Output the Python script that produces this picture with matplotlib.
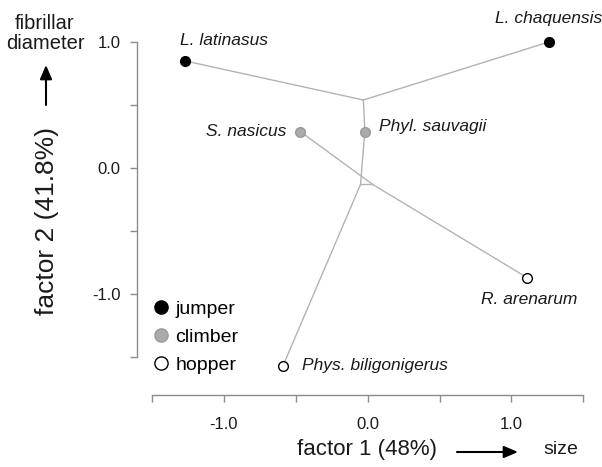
import matplotlib
matplotlib.use("Agg")
import matplotlib.pyplot as plt
from matplotlib.lines import Line2D

plt.rcParams["font.family"] = ["Liberation Sans", "DejaVu Sans"]

# ── data ──────────────────────────────────────────────────────
species = ["L. latinasus", "L. chaquensis", "S. nasicus",
           "Phyl. sauvagii", "R. arenarum", "Phys. biligonigerus"]
factor1 = [-1.27, 1.26, -0.47, -0.02, 1.11, -0.59]
factor2 = [0.85, 1.00, 0.29, 0.29, -0.87, -1.57]
habit = ["jumper", "jumper", "climber", "climber", "hopper", "hopper"]

# internal tree nodes
node_names = ["A", "C", "D"]
node_f1 = [-0.03, -0.05, 0.035]
node_f2 = [0.54, -0.13, -0.13]

edges = [("L. latinasus", "A"), ("L. chaquensis", "A"),
         ("A", "Phyl. sauvagii"), ("Phyl. sauvagii", "C"),
         ("C", "D"), ("C", "Phys. biligonigerus"),
         ("D", "S. nasicus"), ("D", "R. arenarum")]

habit_style = {
    "jumper": dict(mfc="black", mec="black"),
    "climber": dict(mfc="#ababab", mec="#9a9a9a"),
    "hopper": dict(mfc="white", mec="black"),
}

# label placement: offset (points) and alignment
label_pos = {
    "L. latinasus": ((-4, 15), "left"),
    "L. chaquensis": ((0, 17), "center"),
    "S. nasicus": ((-10, 0), "right"),
    "Phyl. sauvagii": ((10, 3.4), "left"),
    "R. arenarum": ((1.5, -15.6), "center"),
    "Phys. biligonigerus": ((14, 0), "left"),
}

coords = {n: (x, y) for n, x, y in zip(species, factor1, factor2)}
coords.update({n: (x, y) for n, x, y in zip(node_names, node_f1, node_f2)})

fig = plt.figure(figsize=(6.02, 4.67), dpi=100)
ax = fig.add_axes([0.2276, 0.1542, 0.770, 0.8233])

for a, b in edges:
    ax.plot([coords[a][0], coords[b][0]], [coords[a][1], coords[b][1]],
            color="#b3b3b3", lw=1.0, zorder=1)

for name, x, y, h in zip(species, factor1, factor2, habit):
    ax.plot(x, y, "o", ms=7, mew=1.0, zorder=3, **habit_style[h])
    off, ha = label_pos[name]
    ax.annotate(name, (x, y), xytext=off, textcoords="offset points",
                ha=ha, va="center", fontsize=12.5, style="italic",
                color="#1a1a1a", annotation_clip=False)

ax.set_xlim(-1.605, 1.62)
ax.set_ylim(-1.80, 1.25)

for s in ["top", "right"]:
    ax.spines[s].set_visible(False)
ax.spines["left"].set_bounds(-1.5, 1.0)
ax.spines["bottom"].set_bounds(-1.5, 1.5)
for s in ["left", "bottom"]:
    ax.spines[s].set_color("#8c8c8c")
    ax.spines[s].set_linewidth(1.0)

ax.set_xticks([-1.5, -1.0, -0.5, 0.0, 0.5, 1.0, 1.5])
ax.set_xticklabels(["", "-1.0", "", "0.0", "", "1.0", ""])
ax.set_yticks([-1.5, -1.0, -0.5, 0.0, 0.5, 1.0])
ax.set_yticklabels(["", "-1.0", "", "0.0", "", "1.0"])
ax.tick_params(colors="#8c8c8c", labelcolor="#1a1a1a", labelsize=12,
               length=5, width=1.0)
ax.tick_params(axis="y", pad=7)
ax.tick_params(axis="x", pad=11)

# legend
handles = [Line2D([], [], ls="", marker="o", ms=9.5, mew=1.0, **habit_style[h])
           for h in ["jumper", "climber", "hopper"]]
ax.legend(handles, ["jumper", "climber", "hopper"], loc="upper left",
          bbox_to_anchor=(0.035, 0.247), frameon=False, fontsize=14,
          handlelength=0.8, handletextpad=0.35, labelspacing=0.55,
          borderpad=0, borderaxespad=0)

# axis titles with arrows
fig.text(367 / 602, 1 - 450 / 467, "factor 1 (48%)", ha="center", va="center",
         fontsize=16, color="#1a1a1a")
fig.text(561 / 602, 1 - 450 / 467, "size", ha="center", va="center",
         fontsize=14, color="#1a1a1a")
ax.annotate("", xy=(518 / 602, 1 - 452 / 467), xytext=(457 / 602, 1 - 452 / 467),
            xycoords="figure fraction", textcoords="figure fraction",
            arrowprops=dict(arrowstyle="-|>,head_length=0.7,head_width=0.3",
                            color="black", lw=1.5, mutation_scale=12,
                            shrinkA=0, shrinkB=0))

fig.text(47 / 602, 1 - 221 / 467, "factor 2 (41.8%)", ha="center", va="center",
         rotation=90, fontsize=19, color="#1a1a1a")
fig.text(45 / 602, 1 - 33.5 / 467, "fibrillar\ndiameter", ha="center",
         va="center", fontsize=14.5, color="#1a1a1a", linespacing=1.1)
ax.annotate("", xy=(46 / 602, 1 - 65 / 467), xytext=(46 / 602, 1 - 105 / 467),
            xycoords="figure fraction", textcoords="figure fraction",
            arrowprops=dict(arrowstyle="-|>,head_length=0.7,head_width=0.3",
                            color="black", lw=1.5, mutation_scale=12,
                            shrinkA=0, shrinkB=0))

fig.savefig("out.png", dpi=100)
